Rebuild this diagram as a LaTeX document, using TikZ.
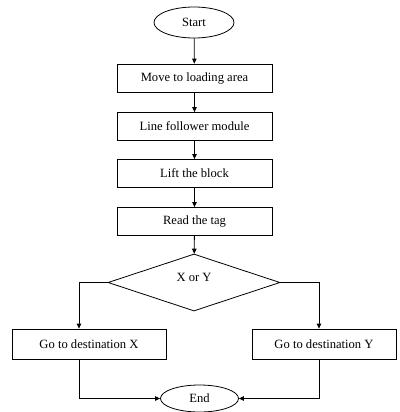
\documentclass[tikz,border=0pt]{standalone}
\usepackage{fontspec}
\setmainfont{Liberation Serif}
\usetikzlibrary{shapes.geometric,arrows.meta}
\begin{document}
\begin{tikzpicture}[x=1pt,y=-1pt,line width=0.8pt,
  txt/.style={font=\fontsize{12.6}{14}\selectfont, inner sep=0pt},
  box/.style={txt, draw, rectangle, minimum width=155pt, minimum height=28pt},
  term/.style={txt, draw, ellipse, minimum width=80pt, minimum height=31pt},
  dec/.style={txt, draw, diamond, minimum width=172pt, minimum height=57pt},
  arr/.style={-{Triangle[length=5pt,width=4.5pt]}}]
\useasboundingbox (0,0) rectangle (399,412);
\node[term] (start) at (194,22.5) {Start};
\node[box] (b1) at (194.5,78) {Move to loading area};
\node[box] (b2) at (194.5,126.5) {Line follower module};
\node[box] (b3) at (194.5,173.5) {Lift the block};
\node[box] (b4) at (194.5,221.5) {Read the tag};
\node[dec] (d) at (194,282.5) {};
\node[txt] (dt) at (194,277) {X or Y};
\node[box, minimum width=154pt, minimum height=30pt] (bx) at (89,344) {Go to destination X};
\node[box, minimum width=144pt, minimum height=30pt] (by) at (324,344) {Go to destination Y};
\node[term, minimum width=78pt, minimum height=27pt] (end) at (199.5,398.5) {End};
\coordinate (lx) at (79,0);
\coordinate (ry) at (319,0);
\draw[arr] (start) -- (b1);
\draw[arr] (b1) -- (b2);
\draw[arr] (b2) -- (b3);
\draw[arr] (b3) -- (b4);
\draw[arr] (b4) -- (d);
\draw[arr] (d.west) -| (lx |- bx.north);
\draw[arr] (d.east) -| (ry |- by.north);
\draw[arr] (lx |- bx.south) |- (end.west);
\draw[arr] (ry |- by.south) |- (end.east);
\end{tikzpicture}
\end{document}
